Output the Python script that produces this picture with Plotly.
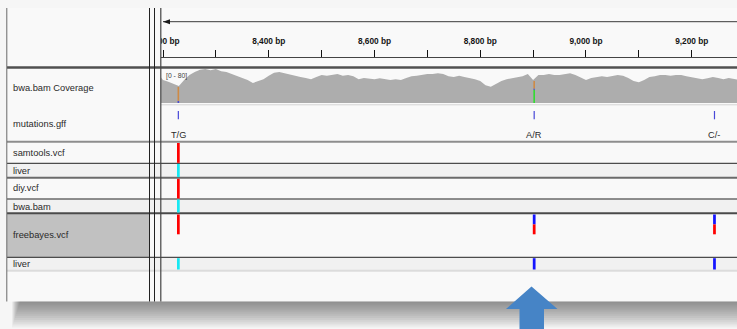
import plotly.graph_objects as go

W, H = 737, 329

# ---------------- data ----------------
# coverage (bwa.bam Coverage track, data range 0-80)
cov_pos = list(range(8190, 9300, 10))
cov_depth = [70, 54, 50, 45, 40, 54, 66, 73, 78, 80, 77, 80, 75, 73, 68, 64, 59, 54, 47, 52,
             56, 64, 71, 73, 70, 66, 63, 61, 59, 56, 61, 66, 64, 66, 68, 64, 66, 63, 56, 59,
             58, 56, 58, 56, 54, 56, 54, 59, 63, 64, 66, 68, 68, 70, 68, 63, 61, 64, 61, 59,
             56, 52, 42, 38, 45, 52, 56, 58, 61, 63, 68, 54, 66, 66, 68, 66, 66, 68, 70, 66,
             59, 54, 59, 61, 63, 61, 63, 66, 64, 59, 52, 49, 54, 61, 63, 66, 66, 64, 66, 66,
             63, 61, 59, 56, 58, 61, 59, 56, 59, 56, 54]
cov_max = 80

# allele counts at mismatching coverage columns
allele_pos = [8229, 8902]
allele_A = [0, 31]
allele_C = [5, 3]
allele_G = [33, 18]
allele_T = [0, 0]

# mutations.gff features
gff_pos = [8229, 8902, 9243]
gff_labels = ["T/G", "A/R", "C/-"]

# VCF tracks: sites, allele fraction, genotype of the single sample
samtools_sites = [8229]
samtools_af = [1.0]
samtools_gt = ["HOM_VAR"]
diy_sites = [8229]
diy_af = [1.0]
diy_gt = ["HOM_VAR"]
freebayes_sites = [8229, 8902, 9243]
freebayes_af = [1.0, 0.5, 0.5]
freebayes_gt = ["HOM_VAR", "HET", "HET"]

# ruler
ruler_ticks_start, ruler_ticks_step = 8200, 100
ruler_label_pos = [8200, 8400, 8600, 8800, 9000, 9200]
ruler_labels = ["8,200 bp", "8,400 bp", "8,600 bp", "8,800 bp", "9,000 bp", "9,200 bp"]

# track names
track_names = ["bwa.bam Coverage", "mutations.gff", "samtools.vcf", "liver",
               "diy.vcf", "bwa.bam", "freebayes.vcf", "liver"]

# ---------------- styling / layout ----------------
BP_LEFT, BP_RIGHT = 8196.2, 9285.6
DATA_X0 = 161
COV_COLOR = "#adadad"
BASE_COLORS = {"A": "#2fdc2f", "C": "#4a4ad0", "G": "#cf8a44", "T": "#ff0000"}
GT_COLORS = {"HOM_VAR": "#17e8f2", "HET": "#1414ff", "HOM_REF": "#c8c8c8"}
FONT = "Liberation Sans"

def px(x):
    return x / W

fig = go.Figure()

# coverage area
fig.add_trace(go.Scatter(x=cov_pos, y=cov_depth, xaxis="x", yaxis="y", mode="lines",
                         fill="tozeroy", fillcolor=COV_COLOR,
                         line=dict(width=0, color=COV_COLOR), hoverinfo="skip",
                         showlegend=False))

# ruler labels (clipped to data panel like IGV)
fig.add_trace(go.Scatter(x=ruler_label_pos, y=[41.5] * len(ruler_label_pos),
                         text=["<b>%s</b>" % t for t in ruler_labels], mode="text",
                         textposition="middle center", cliponaxis=True,
                         textfont=dict(family=FONT, size=8.3, color="#151515"),
                         xaxis="x", yaxis="y2", hoverinfo="skip", showlegend=False))

shapes = []

def rect(x0, x1, y0, y1, color, xref="paper", yref="y2", layer="below"):
    shapes.append(dict(type="rect", xref=xref, yref=yref, x0=x0, x1=x1, y0=y0, y1=y1,
                       fillcolor=color, line=dict(width=0), layer=layer))

def hline(y, x0, x1, color, width, layer="above"):
    shapes.append(dict(type="line", xref="paper", yref="y2", x0=px(x0), x1=px(x1), y0=y, y1=y,
                       line=dict(color=color, width=width), layer=layer))

def vline(x, y0, y1, color, width, layer="above"):
    shapes.append(dict(type="line", xref="paper", yref="y2", x0=px(x), x1=px(x), y0=y0, y1=y1,
                       line=dict(color=color, width=width), layer=layer))

# window panel background
rect(px(7), 1, 8, 301.5, "#f9f9f9")
# genotype rows background
for (y0, y1) in [(163.5, 177), (199.5, 212.5), (257.5, 270)]:
    rect(px(7), 1, y0, y1, "#f1f1f1")
# selected track name
rect(px(7), px(149.5), 213.5, 257, "#c1c1c1")

# window shadow below (accumulating translucent layers)
for i in range(14):
    rect(px(12 + i * 0.6), 1, 301.5, 327.5 - 1.9 * i, "rgba(0,0,0,0.036)")

# allele-coloured coverage columns
for j, p in enumerate(allele_pos):
    cum = 0
    for base, counts in zip("ACGT", [allele_A, allele_C, allele_G, allele_T]):
        c = counts[j]
        if c > 0:
            rect(p - 1.5, p + 1.5, cum, cum + c, BASE_COLORS[base], xref="x", yref="y",
                 layer="above")
        cum += c

# separators
hline(67.5, 7, 737, "#505050", 2.5)
hline(104.8, DATA_X0, 737, "#d4d4d4", 1)
hline(141.8, 7, 737, "#8e8e8e", 2)
hline(163.3, 7, 737, "#222222", 1)
hline(177.7, 7, 737, "#6a6a6a", 2)
hline(199.0, 7, 737, "#222222", 1)
hline(213.3, 7, 737, "#4a4a4a", 2)
hline(257.3, 7, 737, "#222222", 1)
hline(270.8, 7, 737, "#dcdcdc", 2)

vline(6.8, 8, 301.5, "#6a6a6a", 1)
vline(149.5, 8, 301.5, "#222222", 1)
vline(154.5, 8, 301.5, "#222222", 1)
vline(160.8, 8, 301.5, "#444444", 1.2)

# ruler span arrow
hline(21.7, 163, 737, "#3a3a3a", 1)
shapes.append(dict(type="path", xref="paper", yref="y2",
                   path="M %f,21.7 L %f,19.2 L %f,24.2 Z" % (px(163), px(170), px(170)),
                   fillcolor="#1a1a1a", line=dict(width=0), layer="above"))

# gff features
for p in gff_pos:
    shapes.append(dict(type="line", xref="x", yref="y2", x0=p, x1=p, y0=111, y1=119.3,
                       line=dict(color="#4848d8", width=1.2), layer="above"))

# VCF tracks
HALF = 2.6  # bp
def vcf_track(sites, afs, gts, site_y0, site_y1, gt_y0, gt_y1):
    for p, af, gt in zip(sites, afs, gts):
        ysplit = site_y1 - af * (site_y1 - site_y0)
        if af < 1:
            rect(p - HALF, p + HALF, site_y0, ysplit, "#1414ff", xref="x", layer="above")
        rect(p - HALF, p + HALF, ysplit, site_y1, "#ff0000", xref="x", layer="above")
        rect(p - HALF, p + HALF, gt_y0, gt_y1, GT_COLORS[gt], xref="x", layer="above")

vcf_track(samtools_sites, samtools_af, samtools_gt, 143, 162.8, 164, 177)
vcf_track(diy_sites, diy_af, diy_gt, 178.8, 198.5, 199.5, 212.5)
vcf_track(freebayes_sites, freebayes_af, freebayes_gt, 214.5, 234.3, 258.2, 269.5)

# blue callout arrow
ax = [531.5, 557.5, 544, 544, 519.5, 519.5, 506, 531.5]
ay = [286.5, 309, 309, 330, 330, 309, 309, 286.5]
path = "M " + " L ".join("%f,%f" % (px(a), b) for a, b in zip(ax, ay)) + " Z"
shapes.append(dict(type="path", xref="paper", yref="y2", path=path,
                   fillcolor="#4684c6", line=dict(width=0), layer="above"))

annotations = []
name_y = [87.7, 124, 153.3, 171, 188.3, 207, 235, 264.3]
for name, y in zip(track_names, name_y):
    annotations.append(dict(x=px(11), y=y, xref="paper", yref="y2", text=name,
                            showarrow=False, xanchor="left", yanchor="middle",
                            font=dict(family=FONT, size=9.3, color="#2a2a2a")))
for p, lab in zip(gff_pos, gff_labels):
    annotations.append(dict(x=p, y=134.5, xref="x", yref="y2", text=lab, showarrow=False,
                            xanchor="center", yanchor="middle",
                            font=dict(family=FONT, size=9.2, color="#2a2a2a")))
annotations.append(dict(x=px(163.5), y=75.5, xref="paper", yref="y2",
                        text="[0 - %d]" % cov_max, showarrow=False, xanchor="left",
                        yanchor="middle", font=dict(family=FONT, size=6.8, color="#444444")))

fig.update_layout(
    width=W, height=H, autosize=False,
    margin=dict(l=0, r=0, t=0, b=0, pad=0),
    paper_bgcolor="#f6f6f6", plot_bgcolor="rgba(0,0,0,0)",
    showlegend=False,
    xaxis=dict(domain=[DATA_X0 / W, 1], range=[BP_LEFT, BP_RIGHT], anchor="free",
               position=1 - 56.8 / H, showgrid=False, zeroline=False, showticklabels=False,
               ticks="inside", ticklen=7, tickwidth=1, tickcolor="#111111",
               tick0=ruler_ticks_start, dtick=ruler_ticks_step,
               showline=True, linecolor="#444444", linewidth=1.5, fixedrange=True),
    yaxis=dict(domain=[1 - 103 / H, 1 - 69 / H], range=[0, cov_max], visible=False,
               anchor="x", fixedrange=True),
    yaxis2=dict(domain=[0, 1], range=[H, 0], visible=False, anchor="x", fixedrange=True),
    shapes=shapes, annotations=annotations,
)

fig.write_html("out.html", config={"displayModeBar": False, "staticPlot": True})
